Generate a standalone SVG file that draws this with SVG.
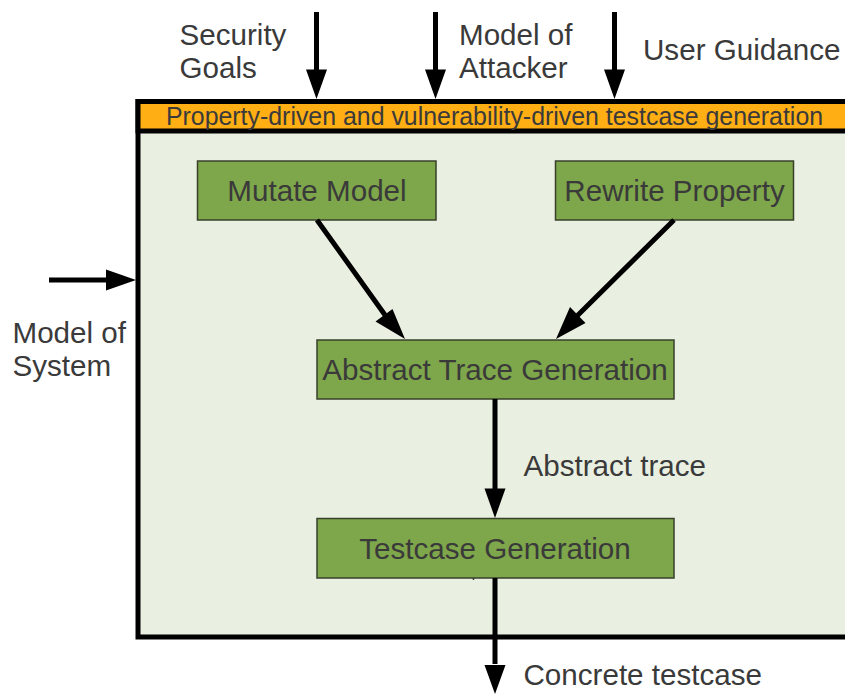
<svg xmlns="http://www.w3.org/2000/svg" width="845" height="695" viewBox="0 0 845 695">
<style>
text{font-family:"Liberation Sans",Arial,sans-serif;fill:#3a3a3a;font-size:29.6px}
.c{text-anchor:middle}
.b{fill:#7ea64a;stroke:#38402c;stroke-width:1.5}
.l{stroke:#000;stroke-width:5;fill:none}
.h{fill:#000;stroke:none}
</style>
<g id="frame">
<rect x="138" y="101.500" width="720" height="535.500" fill="#e9efe1" stroke="#000" stroke-width="5"/>
<rect x="138" y="101.500" width="720" height="29.500" fill="#ffae14" stroke="#000" stroke-width="5"/>
<text x="494.500" y="125" class="c" style="font-size:24.9px">Property-driven and vulnerability-driven testcase generation</text>
</g>
<g id="mutate"><rect class="b" x="197.500" y="161" width="238.500" height="59"/><text x="317" y="200.500" class="c">Mutate Model</text></g>
<g id="rewrite"><rect class="b" x="555.500" y="161" width="238" height="59"/><text x="674.500" y="200.500" class="c">Rewrite Property</text></g>
<g id="abstract"><rect class="b" x="317" y="340" width="357" height="59"/><text x="495" y="379.500" class="c">Abstract Trace Generation</text></g>
<g id="testcase"><rect class="b" x="317" y="518.500" width="357" height="59.500"/><text x="495" y="558.500" class="c">Testcase Generation</text></g>
<g id="connectors">
<path class="l" d="M316.500 12V72M435.500 12V72M614.500 12V72M49 280H108M317 220L385 315M674 220L577 316M495 399V490M495 578V664"/>
<path class="h" d="M306 69.500H327L316.500 99ZM425 69.500H446L435.500 99ZM604 69.500H625L614.500 99ZM106 269.500V290.500L136 280ZM375.500 321.500L392.500 309L405 339ZM585.500 323L570 307L556 339ZM484.500 488.500H505.500L495 518ZM484.500 665H505.500L495 694Z"/>
<path d="M473.500 578V580" stroke="#3a3a3a" stroke-width="1.500"/>
</g>
<g id="labels">
<text x="179.500" y="45">Security</text><text x="179.500" y="78">Goals</text>
<text x="459" y="45">Model of</text><text x="459" y="78">Attacker</text>
<text x="643" y="60">User Guidance</text>
<text x="12.500" y="343">Model of</text><text x="12.500" y="376">System</text>
<text x="523.500" y="476">Abstract trace</text>
<text x="523.500" y="685">Concrete testcase</text>
</g>
</svg>
